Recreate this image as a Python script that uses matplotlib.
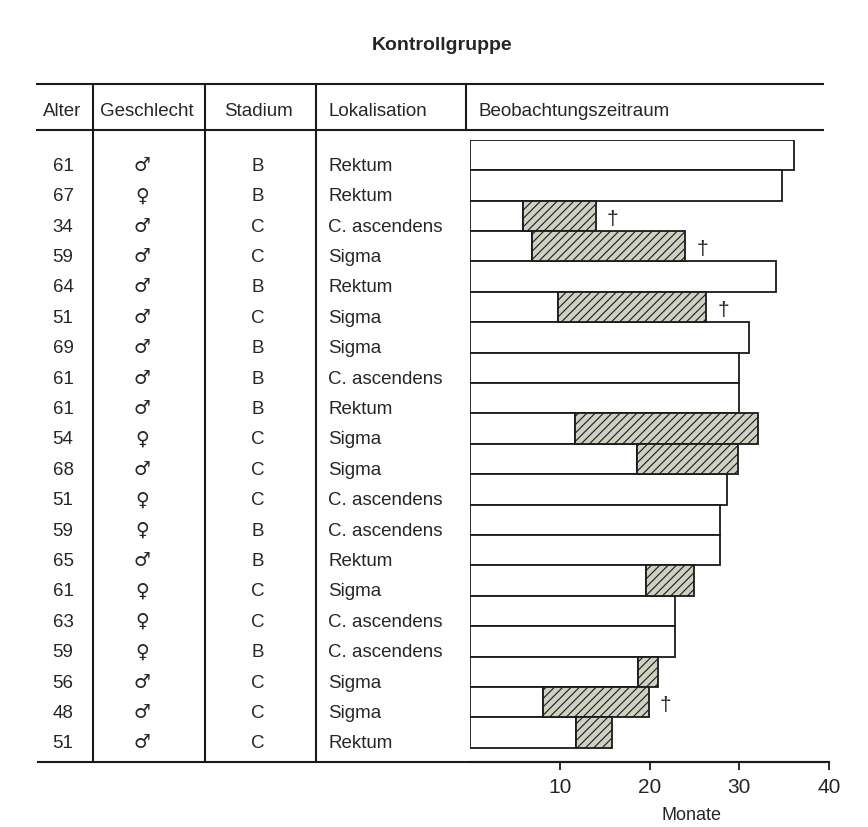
import numpy as np
import matplotlib.pyplot as plt
import matplotlib.transforms as mtransforms

plt.rcParams['font.family'] = ['Liberation Sans', 'DejaVu Sans']
plt.rcParams['hatch.linewidth'] = 0.8

# table columns
alter = [61, 67, 34, 59, 64, 51, 69, 61, 61, 54, 68, 51, 59, 65, 61, 63, 59, 56, 48, 51]
geschlecht = ['m', 'f', 'm', 'm', 'm', 'm', 'm', 'm', 'm', 'f',
              'm', 'f', 'f', 'm', 'f', 'f', 'f', 'm', 'm', 'm']
stadium = ['B', 'B', 'C', 'C', 'B', 'C', 'B', 'B', 'B', 'C',
           'C', 'C', 'B', 'B', 'C', 'C', 'B', 'C', 'C', 'C']
lokalisation = ['Rektum', 'Rektum', 'C. ascendens', 'Sigma', 'Rektum', 'Sigma', 'Sigma',
                'C. ascendens', 'Rektum', 'Sigma', 'Sigma', 'C. ascendens', 'C. ascendens',
                'Rektum', 'Sigma', 'C. ascendens', 'C. ascendens', 'Sigma', 'Sigma', 'Rektum']

# Beobachtungszeitraum in Monaten
ende = [36.1, 34.8, 14.0, 24.0, 34.1, 26.3, 31.1, 30.0, 30.0, 32.1,
        29.9, 28.6, 27.8, 27.8, 25.0, 22.8, 22.8, 20.9, 19.9, 15.8]
# start of hatched part (nan = none)
rezidiv = [np.nan, np.nan, 5.9, 6.9, np.nan, 9.8, np.nan, np.nan, np.nan, 11.7,
           18.6, np.nan, np.nan, np.nan, 19.6, np.nan, np.nan, 18.7, 8.1, 11.8]
verstorben = [False, False, True, True, False, True, False, False, False, False,
              False, False, False, False, False, False, False, False, True, False]

symbole = {'m': '\u2642', 'f': '\u2640'}
txt = '#262626'
W, H = 868, 828

fig = plt.figure(figsize=(8.68, 8.28), dpi=100)
fig.patch.set_facecolor('white')

# overlay in pixel units for the table frame
ax0 = fig.add_axes([0, 0, 1, 1])
ax0.set_xlim(0, W)
ax0.set_ylim(H, 0)
ax0.axis('off')

# bar axes: 0..40 months
top_px, bot_px = 140.8, 763
left_px, right_px = 470, 829
ax = fig.add_axes([left_px / W, 1 - bot_px / H, (right_px - left_px) / W, (bot_px - top_px) / H])
ax.patch.set_alpha(0)
n = len(ende)
ax.set_xlim(0, 40)
ax.set_ylim(19.97, -0.5)
y = np.arange(n)

start = np.where(np.isnan(rezidiv), ende, rezidiv)
ax.barh(y, start, height=1.0, left=0, color='white', edgecolor='#1a1a1a', linewidth=1.3)
mask = ~np.isnan(rezidiv)
ax.barh(y[mask], np.array(ende)[mask] - np.array(rezidiv)[mask], height=1.0,
        left=np.array(rezidiv)[mask], color='#cfd0c2', edgecolor='#1a1a1a',
        linewidth=1.3, hatch='////')
for i in range(n):
    if verstorben[i]:
        ax.text(ende[i] + 1.9, i + 0.08, '\u2020', ha='center', va='center',
                fontsize=15, color=txt)

for s in ['top', 'right', 'left']:
    ax.spines[s].set_visible(False)
ax.spines['bottom'].set_linewidth(1.5)
ax.spines['bottom'].set_color('#1a1a1a')
ax.set_yticks([])
ax.set_xticks([10, 20, 30, 40])
ax.tick_params(axis='x', direction='out', length=6, width=1.3, pad=5,
               labelsize=15, colors='#1a1a1a', labelcolor=txt)
ax.set_xlabel('Monate', fontsize=13, color=txt)
ax.xaxis.set_label_coords(0.616, -0.07)

# table frame
lc = '#1a1a1a'
ax0.plot([37, 823], [84.5, 84.5], color=lc, lw=1.5)
ax0.plot([37, 823], [131, 131], color=lc, lw=1.5)
ax0.plot([38, 829], [763, 763], color=lc, lw=1.5)
for xv in [93, 204.5, 316]:
    ax0.plot([xv, xv], [84.5, 763], color=lc, lw=1.5)
ax0.plot([466, 466], [84.5, 131], color=lc, lw=1.5)

fs = 13.5
ax0.text(442, 50, 'Kontrollgruppe', ha='center', va='baseline', fontsize=14,
         fontweight='bold', color=txt)
ax0.text(62, 116, 'Alter', ha='center', va='baseline', fontsize=fs, color=txt)
ax0.text(147, 116, 'Geschlecht', ha='center', va='baseline', fontsize=fs, color=txt)
ax0.text(258.5, 116, 'Stadium', ha='center', va='baseline', fontsize=fs, color=txt)
ax0.text(328, 116, 'Lokalisation', ha='left', va='baseline', fontsize=fs, color=txt)
ax0.text(478, 116, 'Beobachtungszeitraum', ha='left', va='baseline', fontsize=fs, color=txt)

# rows share the bar axes' y scale
tr = mtransforms.blended_transform_factory(ax0.transData, ax.transData)
for i in range(n):
    yb = i + 0.49
    ax0.text(63, yb, str(alter[i]), ha='center', va='baseline', fontsize=fs,
             color=txt, transform=tr)
    ax0.text(142, yb, symbole[geschlecht[i]], ha='center', va='baseline', fontsize=fs,
             color=txt, transform=tr, family=['DejaVu Sans'])
    ax0.text(258, yb, stadium[i], ha='center', va='baseline', fontsize=fs,
             color=txt, transform=tr)
    ax0.text(328, yb, lokalisation[i], ha='left', va='baseline', fontsize=fs,
             color=txt, transform=tr)

fig.savefig('out.png', dpi=100, facecolor='white')
